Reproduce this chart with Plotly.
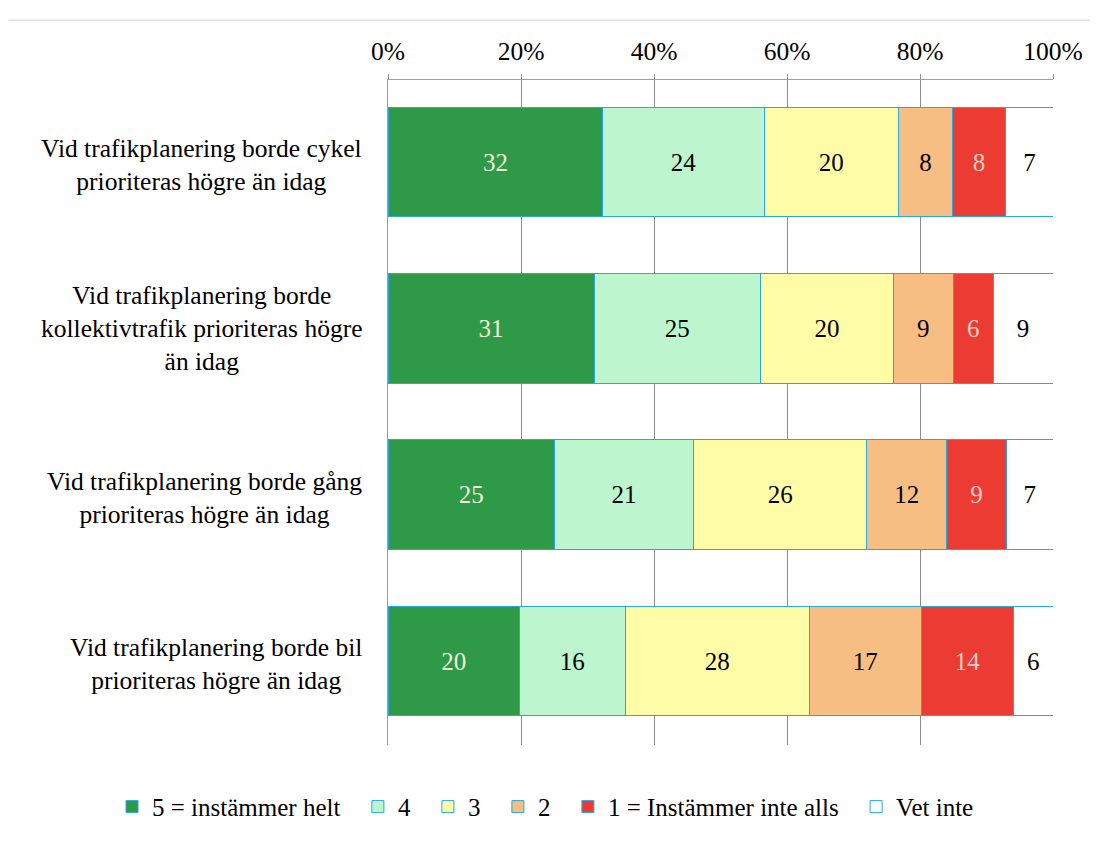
import plotly.graph_objects as go

categories = [
    "Vid trafikplanering borde cykel<br>prioriteras högre än idag",
    "Vid trafikplanering borde<br>kollektivtrafik prioriteras högre<br>än idag",
    "Vid trafikplanering borde gång<br>prioriteras högre än idag",
    "Vid trafikplanering borde bil<br>prioriteras högre än idag",
]
series_names = ["5 = instämmer helt", "4", "3", "2", "1 = Instämmer inte alls", "Vet inte"]
values = {
    "5 = instämmer helt": [32, 31, 25, 20],
    "4": [24, 25, 21, 16],
    "3": [20, 20, 26, 28],
    "2": [8, 9, 12, 17],
    "1 = Instämmer inte alls": [8, 6, 9, 14],
    "Vet inte": [7, 9, 7, 6],
}
colors = ["#2E9A48", "#BDF5CE", "#FFFCA8", "#F7BE84", "#EC3B33", "#FFFFFF"]
text_colors = ["#F2EFD6", "#000000", "#000000", "#000000", "#F6CFC6", "#000000"]
tick_vals = [0, 20, 40, 60, 80, 100]
tick_text = ["0%", "20%", "40%", "60%", "80%", "100%"]

FONT = "Liberation Serif"
PAD = "\u00a0\u00a0"

fig = go.Figure()
for i, (name, col, tcol) in enumerate(zip(series_names, colors, text_colors)):
    fig.add_trace(go.Bar(
        y=categories, x=values[name],
        name=name + (PAD if i < len(series_names) - 1 else ""),
        orientation="h",
        marker=dict(color=col, line=dict(color="#2AA7DF", width=1)),
        text=values[name], textposition="inside", insidetextanchor="middle",
        textangle=0, textfont=dict(family=FONT, size=25, color=tcol),
        width=0.66,
    ))

for c in categories:
    fig.add_annotation(
        x=-0.036, xref="paper", xanchor="right", y=c, yref="y",
        yshift=-3 if c.count("<br>") == 1 else 0,
        text=c, showarrow=False, align="center",
        font=dict(family=FONT, size=25.5, color="#000000"),
    )

fig.add_shape(type="line", xref="paper", yref="paper",
              x0=-0.571, x1=1.08, y0=1.09, y1=1.09,
              line=dict(color="#D0D0D0", width=1))

fig.update_layout(
    barmode="stack", barnorm="percent",
    width=1098, height=843,
    margin=dict(l=380, r=53, t=72, b=106),
    paper_bgcolor="white", plot_bgcolor="white",
    font=dict(family=FONT, size=25, color="#000000"),
    legend=dict(orientation="h", x=-0.415, xanchor="left", y=-0.093, yanchor="middle",
                font=dict(family=FONT, size=25), traceorder="normal",
                itemwidth=30),
    xaxis=dict(side="top", range=[0, 100], tickmode="array", tickvals=tick_vals,
               ticktext=tick_text,
               showgrid=True, gridcolor="#8C8C8C", gridwidth=1,
               showline=True, linecolor="#A0A0A0", linewidth=1,
               ticks="outside", ticklen=5, tickcolor="#8C8C8C",
               ticklabelstandoff=4,
               tickfont=dict(family=FONT, size=25.5), zeroline=False, fixedrange=True),
    yaxis=dict(categoryorder="array", categoryarray=categories,
               range=[3.505, -0.493], showticklabels=False,
               showline=True, linecolor="#9A9A9A", linewidth=1,
               showgrid=False, zeroline=False),
    showlegend=True,
)

fig.write_html("out.html")
